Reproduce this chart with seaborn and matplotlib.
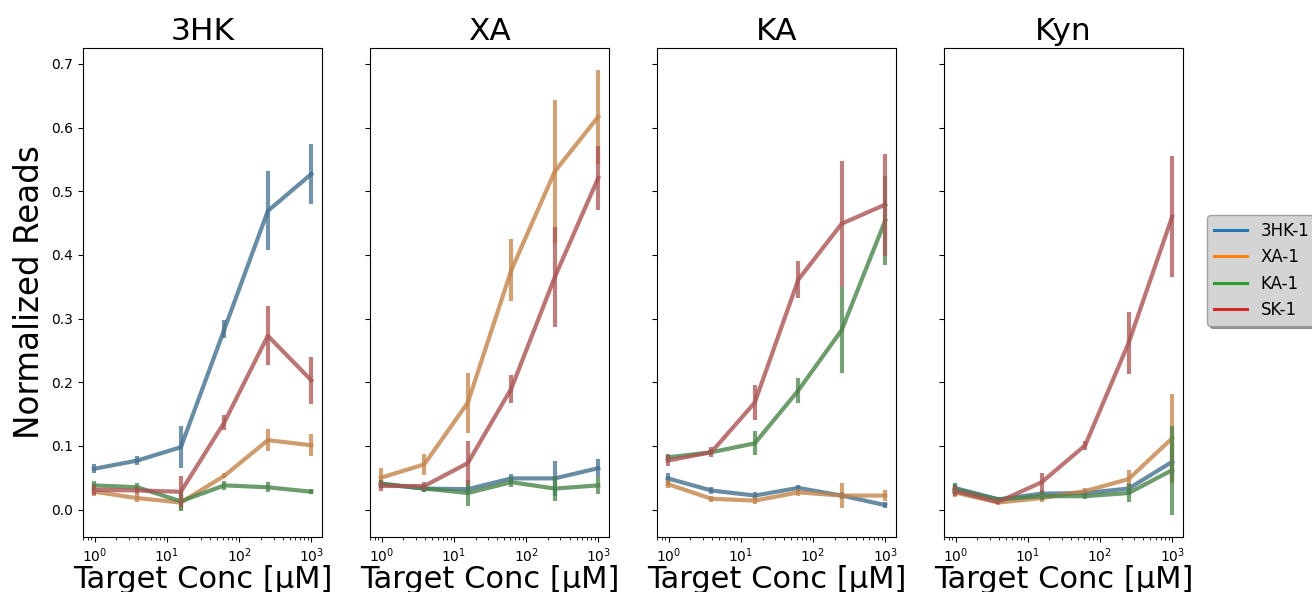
import numpy as np
import pandas as pd
import matplotlib
matplotlib.use("Agg")
from matplotlib import pyplot as plt
from matplotlib.lines import Line2D
import seaborn as sns

# target concentrations (uM), 4-fold dilution from 1000
conc = [0.977, 3.906, 15.625, 62.5, 250, 1000]
targets = ["3HK", "XA", "KA", "Kyn"]
aptamers = ["3HK-1", "XA-1", "KA-1", "SK-1"]

# mean normalized reads, one list per (target, aptamer)
reads_3HK = {
    "3HK-1": [0.064, 0.077, 0.098, 0.283, 0.469, 0.527],
    "XA-1": [0.028, 0.018, 0.011, 0.053, 0.109, 0.101],
    "KA-1": [0.038, 0.035, 0.013, 0.038, 0.035, 0.028],
    "SK-1": [0.031, 0.030, 0.028, 0.137, 0.273, 0.203],
}
err_3HK = {
    "3HK-1": [0.007, 0.007, 0.033, 0.014, 0.062, 0.047],
    "XA-1": [0.006, 0.006, 0.012, 0.004, 0.017, 0.017],
    "KA-1": [0.007, 0.006, 0.015, 0.007, 0.008, 0.004],
    "SK-1": [0.008, 0.006, 0.024, 0.012, 0.046, 0.037],
}
reads_XA = {
    "3HK-1": [0.040, 0.033, 0.032, 0.049, 0.049, 0.065],
    "XA-1": [0.050, 0.071, 0.168, 0.376, 0.531, 0.617],
    "KA-1": [0.041, 0.033, 0.026, 0.043, 0.033, 0.038],
    "SK-1": [0.037, 0.037, 0.073, 0.190, 0.365, 0.521],
}
err_XA = {
    "3HK-1": [0.006, 0.005, 0.006, 0.007, 0.028, 0.014],
    "XA-1": [0.015, 0.017, 0.047, 0.049, 0.113, 0.074],
    "KA-1": [0.006, 0.005, 0.020, 0.007, 0.020, 0.013],
    "SK-1": [0.008, 0.006, 0.035, 0.022, 0.079, 0.050],
}
reads_KA = {
    "3HK-1": [0.049, 0.030, 0.022, 0.034, 0.022, 0.007],
    "XA-1": [0.040, 0.017, 0.014, 0.027, 0.022, 0.022],
    "KA-1": [0.082, 0.090, 0.104, 0.187, 0.282, 0.454],
    "SK-1": [0.077, 0.090, 0.168, 0.361, 0.449, 0.479],
}
err_KA = {
    "3HK-1": [0.008, 0.005, 0.005, 0.005, 0.005, 0.005],
    "XA-1": [0.006, 0.005, 0.006, 0.005, 0.020, 0.008],
    "KA-1": [0.005, 0.005, 0.019, 0.019, 0.067, 0.070],
    "SK-1": [0.009, 0.008, 0.027, 0.029, 0.099, 0.080],
}
reads_Kyn = {
    "3HK-1": [0.034, 0.016, 0.025, 0.026, 0.033, 0.075],
    "XA-1": [0.027, 0.011, 0.018, 0.029, 0.048, 0.112],
    "KA-1": [0.032, 0.016, 0.021, 0.021, 0.026, 0.062],
    "SK-1": [0.029, 0.012, 0.043, 0.101, 0.262, 0.460],
}
err_Kyn = {
    "3HK-1": [0.008, 0.004, 0.005, 0.005, 0.008, 0.030],
    "XA-1": [0.008, 0.004, 0.006, 0.005, 0.014, 0.070],
    "KA-1": [0.008, 0.004, 0.006, 0.005, 0.014, 0.070],
    "SK-1": [0.008, 0.004, 0.015, 0.007, 0.049, 0.095],
}

reads = {"3HK": reads_3HK, "XA": reads_XA, "KA": reads_KA, "Kyn": reads_Kyn}
errs = {"3HK": err_3HK, "XA": err_XA, "KA": err_KA, "Kyn": err_Kyn}

rows = []
for t in targets:
    for a in aptamers:
        for c, m, e in zip(conc, reads[t][a], errs[t][a]):
            rows.append({"target": t, "aptamer": a, "conc": c, "reads": m, "err": e})
df = pd.DataFrame(rows)

base = dict(zip(aptamers, sns.color_palette("tab10", 4)))
faded = {a: sns.desaturate(c, 0.5) for a, c in base.items()}

fig, axes = plt.subplots(1, 4, figsize=(13.12, 5.92), dpi=100, sharey=True)
fig.subplots_adjust(left=0.0633, right=0.9017, top=0.919, bottom=0.093, wspace=0.2)

for ax, t in zip(axes, targets):
    sub = df[df["target"] == t]
    sns.lineplot(data=sub, x="conc", y="reads", hue="aptamer", palette=faded,
                 hue_order=aptamers, lw=3, alpha=0.8, legend=False, ax=ax)
    for a in aptamers:
        s = sub[sub["aptamer"] == a]
        ax.errorbar(s["conc"], s["reads"], yerr=s["err"], fmt="none",
                    ecolor=faded[a], elinewidth=3, alpha=0.75)
    ax.set_xscale("log")
    ax.set_title(t, fontsize=22.5)
    ax.set_xlabel("Target Conc [μM]", fontsize=22, labelpad=0)
    ax.set_ylabel("")
    ax.tick_params(labelsize=10)

axes[0].set_ylabel("Normalized Reads", fontsize=23.5)
axes[0].set_ylim(-0.043, 0.725)
axes[0].set_yticks([0.0, 0.1, 0.2, 0.3, 0.4, 0.5, 0.6, 0.7])

handles = [Line2D([0], [0], color=base[a], lw=2.2) for a in aptamers]
leg = axes[-1].legend(handles, aptamers, loc="center left", bbox_to_anchor=(1.067, 0.545),
                      fontsize=12, facecolor="#d4d4d4", framealpha=1, shadow=True,
                      handlelength=2.0, borderaxespad=0.5)
leg.get_frame().set_edgecolor("#a0a0a0")

fig.savefig("out.png", dpi=100)
